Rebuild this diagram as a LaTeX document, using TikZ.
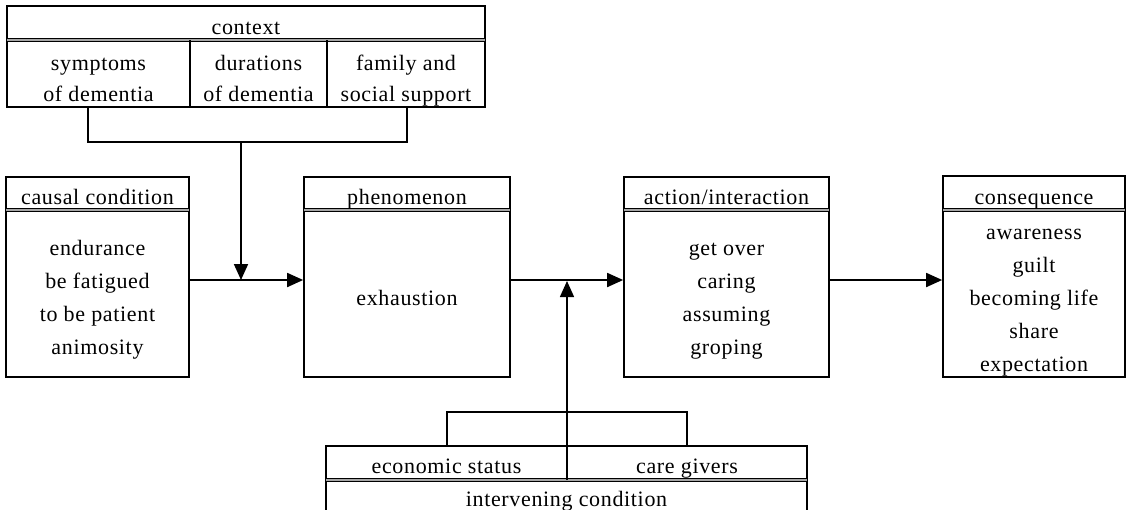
\documentclass[tikz,border=0pt]{standalone}
\usepackage{fontspec}
\setmainfont{Liberation Serif}[LetterSpace=3]
\usetikzlibrary{arrows.meta}
\begin{document}
\begin{tikzpicture}[x=1pt,y=-1pt,
  box/.style={draw, line width=1.7pt, inner sep=0pt},
  sep/.style={double=gray!70, double distance=1.2pt, line width=1pt},
  thin/.style={line width=1.3pt},
  txt/.style={anchor=base, inner sep=0pt, font=\fontsize{22}{26}\selectfont},
  conn/.style={line width=1.8pt},
  arr/.style={conn, -{Triangle[length=16pt,width=14pt]}}]
\clip (0,0) rectangle (1127,509);
\fill[white] (0,0) rectangle (1127,509);
% boxes
\node[box, minimum width=478pt, minimum height=101pt] (ctx) at (246,56.5) {};
\node[box, minimum width=183pt, minimum height=200pt] (causal) at (97.5,277) {};
\node[box, minimum width=206pt, minimum height=200pt] (phen) at (407,277) {};
\node[box, minimum width=205pt, minimum height=200pt] (act) at (726.5,277) {};
\node[box, minimum width=182pt, minimum height=201pt] (cons) at (1034,276.5) {};
\node[box, minimum width=481pt, minimum height=100pt] (intv) at (566.5,496) {};
% separators
\draw[sep] (7,40) -- (485,40);
\draw[thin] (190,40) -- (190,107);
\draw[thin] (327,40) -- (327,107);
\draw[sep] (6,210) -- (189,210);
\draw[sep] (304,210) -- (510,210);
\draw[sep] (624,210) -- (829,210);
\draw[sep] (943,210) -- (1125,210);
\draw[sep] (326,480) -- (807,480);
% texts
\node[txt] (tctx) at (246,34) {context};
\node[txt] (s1) at (98.5,70) {symptoms};
\node[txt] (s2) at (98.5,101) {of dementia};
\node[txt] (d1) at (258.5,70) {durations};
\node[txt] (d2) at (258.5,101) {of dementia};
\node[txt] (f1) at (406,70) {family and};
\node[txt] (f2) at (406,101) {social support};
\node[txt] (tcausal) at (97.5,204) {causal condition};
\node[txt] (c1) at (97.5,255) {endurance};
\node[txt] (c2) at (97.5,288) {be fatigued};
\node[txt] (c3) at (97.5,321) {to be patient};
\node[txt] (c4) at (97.5,354) {animosity};
\node[txt] (tphen) at (407,204) {phenomenon};
\node[txt] (p1) at (407,305) {exhaustion};
\node[txt] (tact) at (726.5,204) {action/interaction};
\node[txt] (a1) at (726.5,255) {get over};
\node[txt] (a2) at (726.5,288) {caring};
\node[txt] (a3) at (726.5,321) {assuming};
\node[txt] (a4) at (726.5,354) {groping};
\node[txt] (tcons) at (1034,204) {consequence};
\node[txt] (q1) at (1034,239) {awareness};
\node[txt] (q2) at (1034,272) {guilt};
\node[txt] (q3) at (1034,305) {becoming life};
\node[txt] (q4) at (1034,338) {share};
\node[txt] (q5) at (1034,371) {expectation};
\node[txt] (e1) at (446.5,473) {economic status};
\node[txt] (e2) at (687,473) {care givers};
\node[txt] (tint) at (566.5,506) {intervening condition};
% coordinates
\coordinate (ay) at (0,280);
\coordinate (cb1) at (88,107);
\coordinate (cb2) at (88,142);
\coordinate (cb3) at (407,142);
\coordinate (cb4) at (407,107);
\coordinate (cm) at (241,142);
\coordinate (cj) at (241,280);
\coordinate (ib1) at (447,446);
\coordinate (ib2) at (447,412);
\coordinate (ib3) at (687,412);
\coordinate (ib4) at (687,446);
\coordinate (im) at (567,480);
\coordinate (ij) at (567,281);
% brackets
\draw[thin] (cb1) -- (cb2) -- (cb3) -- (cb4);
\draw[thin] (ib1) -- (ib2) -- (ib3) -- (ib4);
% connectors
\draw[arr] (cm) -- (cj);
\draw[arr] (causal.east |- ay) -- (phen.west |- ay);
\draw[arr] (phen.east |- ay) -- (act.west |- ay);
\draw[arr] (act.east |- ay) -- (cons.west |- ay);
\draw[conn, line width=1.4pt, -{Triangle[length=16pt,width=14pt]}] (im) -- (ij);
\end{tikzpicture}
\end{document}
